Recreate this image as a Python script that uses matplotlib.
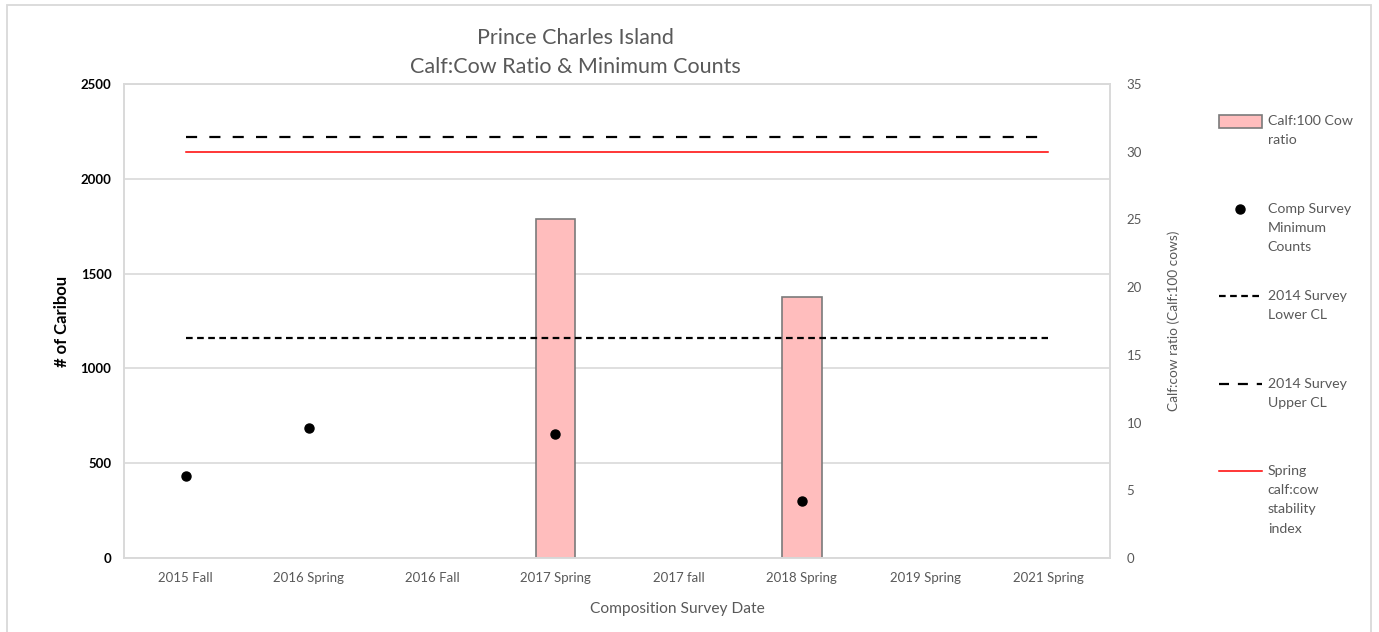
import matplotlib
matplotlib.use("Agg")
import matplotlib.pyplot as plt
from matplotlib.patches import Rectangle, Patch
from matplotlib.lines import Line2D
from matplotlib.offsetbox import TextArea
import numpy as np

categories = ["2015 Fall", "2016 Spring", "2016 Fall", "2017 Spring",
              "2017 fall", "2018 Spring", "2019 Spring", "2021 Spring"]
calf_ratio = [np.nan, np.nan, np.nan, 25.0, np.nan, 19.3, np.nan, np.nan]
min_counts = [432, 686, np.nan, 654, np.nan, 301, np.nan, np.nan]
lower_cl = 1160
upper_cl = 2220
stability_index = 30
left_ticks = [0, 500, 1000, 1500, 2000, 2500]
right_ticks = [0, 5, 10, 15, 20, 25, 30, 35]

plt.rcParams['font.family'] = ['Lato', 'DejaVu Sans']
GRAY = "#595959"

W, H = 1379, 632
fig = plt.figure(figsize=(W / 100, H / 100), dpi=100)
fig.patches.append(Rectangle((7 / W, -0.05), (1371 - 7) / W, 1.05 - 5 / H,
                             transform=fig.transFigure, fill=False,
                             edgecolor="#d9d9d9", linewidth=1.3))

left, right, top, bottom = 124, 1110, 84, 558
ax = fig.add_axes([left / W, 1 - bottom / H, (right - left) / W, (bottom - top) / H])
ax2 = ax.twinx()

x = np.arange(len(categories))
ax.set_xlim(-0.5, len(categories) - 0.5)
ax.set_ylim(0, 2500)
ax2.set_ylim(0, 35)

# bars on secondary axis
ax2.bar(x, calf_ratio, width=0.32, color="#ffbdbd", edgecolor="#7a7a7a",
        linewidth=1.2, zorder=2)

# reference lines
ax.plot([x[0], x[-1]], [lower_cl, lower_cl], color="black", lw=1.6,
        dashes=(3.0, 2.0), zorder=4)
ax.plot([x[0], x[-1]], [upper_cl, upper_cl], color="black", lw=1.6,
        dashes=(5.0, 5.5), zorder=4)
ax2.plot([x[0], x[-1]], [stability_index, stability_index], color="#ff0000",
         lw=1.1, zorder=4)

# points on primary axis, drawn above bars
ax.set_zorder(ax2.get_zorder() + 1)
ax.patch.set_visible(False)
ax.plot(x, min_counts, "o", color="black", markersize=6.5, zorder=5)

# grid and frame
ax2.set_yticks(right_ticks)
for t in left_ticks:
    ax2.axhline(t * 35 / 2500, color="#d9d9d9", lw=1.2, zorder=0)
for a in (ax, ax2):
    for s in a.spines.values():
        s.set_color("#d9d9d9")
        s.set_linewidth(1.2)

ax.set_xticks(x)
ax.set_xticklabels(categories, fontsize=9.5, color=GRAY)
ax.set_yticks(left_ticks)
ax.set_yticklabels([str(v) for v in left_ticks], fontsize=9.5, fontweight="bold", color="black")
ax2.set_yticklabels([str(v) for v in right_ticks], fontsize=9.5, color=GRAY)
ax.tick_params(axis="x", length=0, pad=10)
ax.tick_params(axis="y", length=0, pad=9)
ax2.tick_params(axis="y", length=0, pad=12)

ax.set_ylabel("# of Caribou", fontsize=12, fontweight="bold", color="black")
ax.yaxis.set_label_coords(-0.055, 0.5)
ax2.set_ylabel("Calf:cow ratio (Calf:100 cows)", fontsize=9.8, color=GRAY)
ax2.yaxis.set_label_coords(1.058, 0.5)
ax.set_xlabel("Composition Survey Date", fontsize=11.2, color=GRAY)
ax.xaxis.set_label_coords((677 - left) / (right - left), -0.093)

fig.text(575 / W, 1 - 38 / H, "Prince Charles Island", ha="center", va="center",
         fontsize=15.5, color=GRAY)
fig.text(575 / W, 1 - 67 / H, "Calf:Cow Ratio & Minimum Counts", ha="center",
         va="center", fontsize=15.5, color=GRAY)

# legend entries (Excel-style, one per block)
entries = [
    (Patch(facecolor="#ffbdbd", edgecolor="#7a7a7a", linewidth=1.2), "Calf:100 Cow\nratio", 115),
    (Line2D([], [], marker="o", ls="none", color="black", markersize=6.5), "Comp Survey\nMinimum\nCounts", 203),
    (Line2D([], [], color="black", lw=1.6, dashes=(3.0, 2.0)), "2014 Survey\nLower CL", 290),
    (Line2D([], [], color="black", lw=1.6, dashes=(4.5, 4.0)), "2014 Survey\nUpper CL", 378),
    (Line2D([], [], color="#ff0000", lw=1.1), "Spring\ncalf:cow\nstability\nindex", 465),
]
for h, lab, ytop in entries:
    leg = fig.legend([h], [lab], loc="upper left", bbox_to_anchor=(1219 / W, 1 - ytop / H),
                     frameon=False, fontsize=10.2, handlelength=3.0, handleheight=1.0,
                     handletextpad=0.45, borderpad=0, borderaxespad=0)
    for col in leg._legend_handle_box.get_children():
        for hp in col.get_children():
            hp.align = "top"
            for child in hp.get_children():
                if isinstance(child, TextArea):
                    child._text.set_linespacing(1.72)
                    child._text.set_color(GRAY)

fig.savefig("out.png", dpi=100)
